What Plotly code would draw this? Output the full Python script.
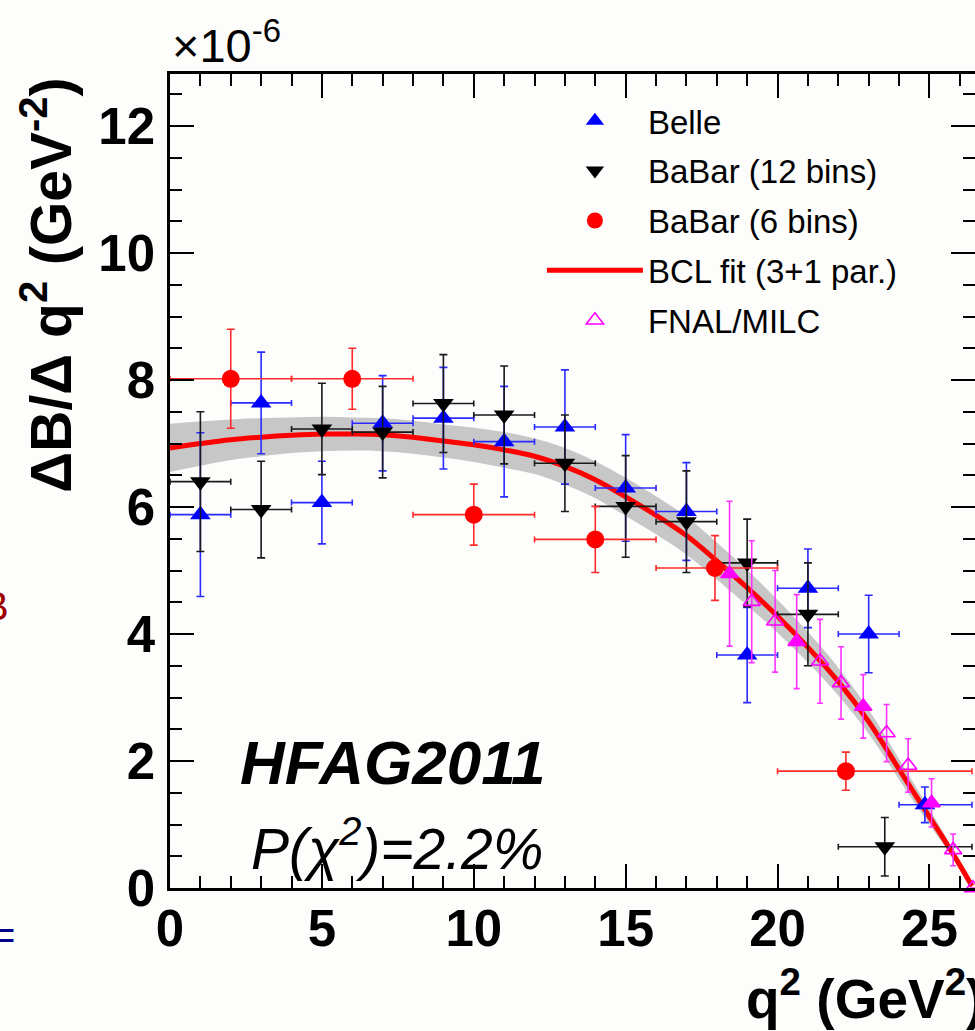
import plotly.graph_objects as go

FONT = "Liberation Sans, Arial, Helvetica, sans-serif"

# ---------------- data (units of 1e-6 GeV^-2) ----------------
belle_q2 = [1, 3, 5, 7, 9, 11, 13, 15, 17, 19, 21, 23, 24.85]
belle_lo = [0, 2, 4, 6, 8, 10, 12, 14, 16, 18, 20, 22, 24]
belle_hi = [2, 4, 6, 8, 10, 12, 14, 16, 18, 20, 22, 24, 26.4]
belle_val = [5.88, 7.64, 6.07, 7.32, 7.40, 7.03, 7.26, 6.30, 5.93, 3.67, 4.72, 4.00, 1.31]
belle_err = [1.29, 0.80, 0.65, 0.75, 0.80, 0.87, 0.90, 0.84, 0.77, 0.75, 0.62, 0.61, 0.28]

babar12_q2 = [1, 3, 5, 7, 9, 11, 13, 15, 17, 19, 21, 23.53]
babar12_lo = [0, 2, 4, 6, 8, 10, 12, 14, 16, 18, 20, 22]
babar12_hi = [2, 4, 6, 8, 10, 12, 14, 16, 18, 20, 22, 26.4]
babar12_val = [6.40, 5.96, 7.23, 7.18, 7.63, 7.45, 6.69, 6.01, 5.77, 5.12, 4.31, 0.65]
babar12_err = [1.10, 0.76, 0.72, 0.72, 0.77, 0.77, 0.76, 0.80, 0.80, 0.69, 0.81, 0.46]

babar6_q2 = [2, 6, 10, 14, 17.94, 22.25]
babar6_lo = [0, 4, 8, 12, 16, 20]
babar6_hi = [4, 8, 12, 16, 20, 26.4]
babar6_val = [8.02, 8.02, 5.88, 5.49, 5.04, 1.84]
babar6_err = [0.78, 0.48, 0.48, 0.52, 0.51, 0.30]

lattice_q2 = [18.42, 19.15, 19.92, 20.63, 21.40, 22.09, 22.82, 23.59, 24.30, 25.07, 25.78, 26.43]
lattice_val = [4.95, 4.51, 4.20, 3.88, 3.57, 3.23, 2.86, 2.44, 1.93, 1.34, 0.60, 0.0]
lattice_err = [1.14, 0.96, 0.80, 0.74, 0.66, 0.57, 0.50, 0.45, 0.42, 0.38, 0.25, 0.0]
lattice_used = [1, 0, 0, 1, 0, 0, 1, 0, 0, 1, 0, 0]

fit_q2 = [0, 1, 2, 3, 4, 5, 6, 7, 8, 9, 10, 11, 12, 13, 14, 15, 16, 17, 18, 19,
          20, 21, 22, 23, 24, 25, 25.5, 26, 26.4]
fit_val = [6.93, 7.00, 7.06, 7.10, 7.13, 7.15, 7.15, 7.14, 7.10, 7.04, 6.98, 6.90,
           6.80, 6.64, 6.43, 6.16, 5.87, 5.55, 5.15, 4.73, 4.28, 3.79, 3.25, 2.62,
           1.87, 1.12, 0.75, 0.36, 0.03]
fit_err = [0.38, 0.35, 0.32, 0.30, 0.28, 0.27, 0.26, 0.26, 0.26, 0.26, 0.27, 0.28,
           0.28, 0.29, 0.29, 0.30, 0.30, 0.30, 0.29, 0.28, 0.26, 0.24, 0.22, 0.19,
           0.16, 0.12, 0.09, 0.05, 0.02]

x_ticks = [0, 5, 10, 15, 20, 25]
y_ticks = [0, 2, 4, 6, 8, 10, 12]
X_RANGE = [0, 26.5]
Y_RANGE = [0, 12.82]

# ---------------- figure ----------------
fig = go.Figure()

band_hi = [v + e for v, e in zip(fit_val, fit_err)]
band_lo = [v - e for v, e in zip(fit_val, fit_err)]
fig.add_trace(go.Scatter(
    x=fit_q2 + fit_q2[::-1], y=band_hi + band_lo[::-1],
    mode="lines", fill="toself", fillcolor="#c6c7c6",
    line=dict(width=0, color="#c6c7c6", shape="spline"),
    showlegend=False, hoverinfo="skip"))

fig.add_trace(go.Scatter(
    x=fit_q2, y=fit_val, mode="lines", name="BCL fit (3+1 par.)",
    legendrank=4, legendgroup="g4",
    line=dict(color="#ff0000", width=5, shape="spline")))


def xerr(xs, lo, hi):
    return dict(type="data", symmetric=False,
                array=[h - x for x, h in zip(xs, hi)],
                arrayminus=[x - l for x, l in zip(xs, lo)])


def add_exp(xs, ys, errs, lo, hi, name, color, barcolor, symbol, size, rank):
    ex = xerr(xs, lo, hi)
    ex.update(color=barcolor, thickness=1.6, width=3)
    fig.add_trace(go.Scatter(
        x=xs, y=ys, mode="markers", name=name, legendrank=rank, legendgroup="g%d" % rank,
        marker=dict(symbol=symbol, size=size, color=color, line=dict(width=0)),
        error_y=dict(type="data", array=errs, color=barcolor, thickness=1.6, width=4),
        error_x=ex))


add_exp(belle_q2, belle_val, belle_err, belle_lo, belle_hi, "Belle",
        "#0000ff", "#2b2bff", "triangle-up", 18, 1)
add_exp(babar12_q2, babar12_val, babar12_err, babar12_lo, babar12_hi, "BaBar (12 bins)",
        "#000000", "#1a1a1a", "triangle-down", 18, 2)
add_exp(babar6_q2, babar6_val, babar6_err, babar6_lo, babar6_hi, "BaBar (6 bins)",
        "#ff0000", "#ff2a2a", "circle", 18, 3)

fig.add_trace(go.Scatter(
    x=lattice_q2, y=lattice_val, mode="markers", name="FNAL/MILC",
    legendrank=5, legendgroup="g5", cliponaxis=False,
    marker=dict(symbol="triangle-up-open", size=15, color="#ff00ff", line=dict(width=1.6)),
    error_y=dict(type="data", array=lattice_err, color="#ff33ff", thickness=1.6, width=3)))
fig.add_trace(go.Scatter(
    x=[q for q, u in zip(lattice_q2, lattice_used) if u],
    y=[v for v, u in zip(lattice_val, lattice_used) if u],
    mode="markers", showlegend=False, cliponaxis=False,
    marker=dict(symbol="triangle-up", size=16, color="#ff00ff", line=dict(width=0))))

# right-hand ticks (frame is cropped at the right edge)
fig.add_trace(go.Scatter(x=[None], y=[None], yaxis="y2", showlegend=False, hoverinfo="skip"))

tickfont = dict(family=FONT, size=51, color="black", weight="bold")

fig.update_layout(
    width=975, height=1031,
    margin=dict(l=170, r=0, t=74, b=143),
    paper_bgcolor="#fdfdfc", plot_bgcolor="#fdfdfc",
    font=dict(family=FONT, color="black"),
    showlegend=True,
    legend=dict(x=0.462, y=0.977, xanchor="left", yanchor="top",
                bgcolor="rgba(0,0,0,0)", font=dict(family=FONT, size=33, color="black"),
                itemwidth=96, tracegroupgap=4, traceorder="grouped"),
    xaxis=dict(range=X_RANGE, showgrid=False, zeroline=False,
               showline=True, linecolor="black", linewidth=2.5, mirror="ticks",
               ticks="inside", ticklen=24, tickwidth=2, tickcolor="black",
               tickvals=x_ticks, ticktext=[str(t) for t in x_ticks],
               tickfont=tickfont, ticklabelstandoff=-6,
               minor=dict(ticks="inside", ticklen=12, tickwidth=2, dtick=1,
                          tickcolor="black", showgrid=False)),
    yaxis=dict(range=Y_RANGE, showgrid=False, zeroline=False,
               showline=True, linecolor="black", linewidth=2.5, mirror=False,
               ticks="inside", ticklen=24, tickwidth=2, tickcolor="black",
               tickvals=y_ticks, ticktext=[str(t) for t in y_ticks],
               tickfont=tickfont, ticklabelstandoff=2,
               minor=dict(ticks="inside", ticklen=12, tickwidth=2, dtick=0.5,
                          tickcolor="black", showgrid=False)),
    yaxis2=dict(range=Y_RANGE, overlaying="y", side="right", anchor="x",
                showgrid=False, zeroline=False, showline=False,
                ticks="inside", ticklen=24, tickwidth=2, tickcolor="black",
                tickvals=y_ticks, showticklabels=False,
                minor=dict(ticks="inside", ticklen=12, tickwidth=2, dtick=0.5,
                           tickcolor="black", showgrid=False)),
)

annotations = [
    dict(text="<b>ΔB/Δ q<sup>2</sup> (GeV<sup>-2</sup>)</b>", xref="paper", yref="paper",
         x=-0.153, y=0.741, xanchor="center", yanchor="middle", textangle=-90,
         showarrow=False, font=dict(family=FONT, size=57, color="black")),
    dict(text="<b>q<sup>2</sup> (GeV<sup>2</sup>)</b>", xref="paper", yref="paper",
         x=1.014, y=-0.132, xanchor="right", yanchor="middle",
         showarrow=False, font=dict(family=FONT, size=55, color="black")),
    dict(text="×10<sup>-6</sup>", xref="paper", yref="paper",
         x=0.0, y=1.0, xanchor="left", yanchor="bottom",
         showarrow=False, font=dict(family=FONT, size=47, color="black")),
    dict(text="<b><i>HFAG2011</i></b>", xref="paper", yref="paper",
         x=(393 - 170) / 805, y=(888 - 762) / 814, xanchor="center", yanchor="middle",
         showarrow=False, font=dict(family=FONT, size=62, color="black")),
    dict(text="<i>P(χ<sup>2</sup>)=2.2%</i>", xref="paper", yref="paper",
         x=(397 - 170) / 805, y=(888 - 845) / 814, xanchor="center", yanchor="middle",
         showarrow=False, font=dict(family=FONT, size=57, color="black")),
    # fragments of neighbouring slide text cropped at the left edge
    dict(text="B", xref="paper", yref="paper",
         x=(11 - 170) / 805, y=(888 - 606) / 814, xanchor="right", yanchor="middle",
         showarrow=False, font=dict(family=FONT, size=40, color="#9b0000")),
    dict(text="=", xref="paper", yref="paper",
         x=(17 - 170) / 805, y=(888 - 935) / 814, xanchor="right", yanchor="middle",
         showarrow=False, font=dict(family=FONT, size=40, color="#00008b")),
]
fig.update_layout(annotations=annotations)

fig.write_html("out.html")
